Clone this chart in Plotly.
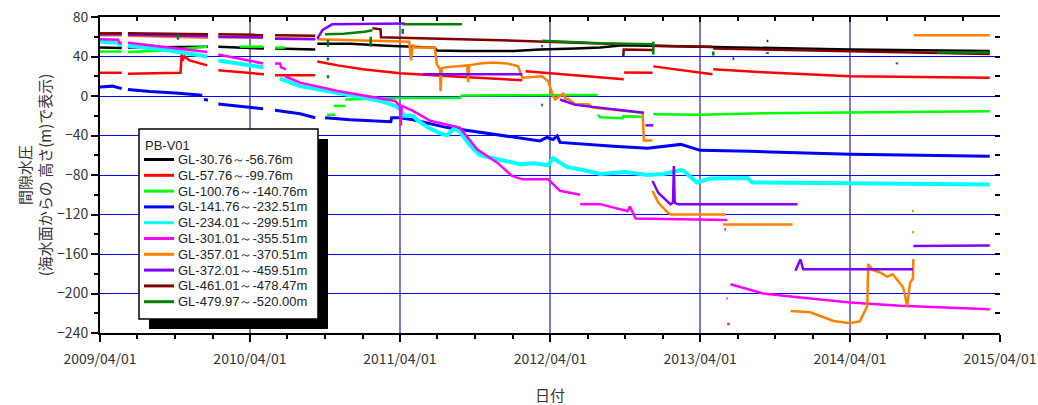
import plotly.graph_objects as go

# ---------------- data ----------------
SERIES_NAMES = [
    "GL-30.76～-56.76m", "GL-57.76～-99.76m", "GL-100.76～-140.76m",
    "GL-141.76～-232.51m", "GL-234.01～-299.51m", "GL-301.01～-355.51m",
    "GL-357.01～-370.51m", "GL-372.01～-459.51m", "GL-461.01～-478.47m",
    "GL-479.97～-520.00m",
]
SERIES_COLORS = ["#000000", "#ff0000", "#00ff00", "#0000ff", "#00ffff",
                 "#ff00ff", "#ff8000", "#8000ff", "#800000", "#008000"]
LEGEND_TITLE = "PB-V01"

BLACK_D = ['2009-04-01', '2009-05-24', None,
           '2009-06-08', '2009-09-01', '2009-12-20', None,
           '2010-01-14', '2010-05-05', None,
           '2010-06-01', '2010-09-07', None,
           '2010-09-12', '2010-12-01', '2011-03-01', '2011-06-25', '2011-06-30', '2011-09-01',
           '2012-01-02', '2012-03-07', '2012-06-01', '2012-08-01', '2012-09-24', '2013-01-01',
           '2013-04-01', '2014-04-01', '2015-03-07']
BLACK_V = [49, 48.5, None, 49, 49.5, 50, None, 50, 48, None, 48, 47, None,
           53, 53, 51, 49, 46, 45.6, 45.6, 47, 48, 49, 51.5, 51, 50, 47, 45.5]

RED_D = ['2009-04-01', '2009-05-24', None,
         '2009-06-08', '2009-08-01', '2009-10-14', '2009-10-17', '2009-10-19', '2009-10-24',
         '2009-11-05', '2009-12-18', None,
         '2010-01-14', '2010-05-05', None,
         '2010-06-01', '2010-09-07', None,
         '2010-09-12', '2010-11-01', '2011-01-01', '2011-04-01', '2011-08-01', '2011-12-01',
         '2012-01-24', None,
         '2012-02-01', '2012-06-01', '2012-09-27', None,
         '2012-09-28', '2012-12-06', None,
         '2012-12-08', '2013-03-01', '2013-05-01', None,
         '2013-05-03', '2013-09-01', '2014-04-01', '2015-03-07']
RED_V = [23.5, 23.5, None, 22.5, 23, 23.5, 44, 36, 40, 36, 31, None, 26, 22, None,
         21, 21, None, 35, 31, 27, 23, 20, 17.5, 16, None, 25, 21, 17, None,
         23.7, 23.5, None, 30, 25, 22, None, 27, 24, 20, 18.5]

LIME_D = ['2009-04-01', '2009-05-24', None,
          '2009-06-08', '2009-09-01', '2009-12-18', None,
          '2010-03-07', '2010-05-03', None,
          '2010-06-01', '2010-06-25', None,
          '2010-10-06', '2010-10-25', None,
          '2010-10-22', '2010-11-19', None,
          '2010-11-19', '2011-04-01', '2011-08-25', '2011-08-30', '2012-07-25', None,
          '2012-07-26', '2012-08-01', '2012-09-24', '2012-09-26', '2012-11-15', None,
          '2012-12-08', '2013-04-01', '2013-09-01', '2014-04-01', '2015-03-07']
LIME_V = [45, 45, None, 44.5, 46, 50, None, 50, 50, None, 49, 49, None,
          -19, -19, None, -10, -10, None, -3.5, -2, -2, 0.5, 1, None,
          -19, -21.5, -22.5, -20.5, -21, None, -18.5, -19, -17.5, -16.5, -15.5]

BLUE_D = ['2009-04-01', '2009-05-01', '2009-05-24', None,
          '2009-06-08', '2009-08-01', '2009-10-01', '2009-12-06', None,
          '2009-12-10', '2009-12-20', None,
          '2010-01-14', '2010-03-01', '2010-05-03', None,
          '2010-06-01', '2010-08-01', '2010-09-07', None,
          '2010-10-01', '2010-12-01', '2011-03-10', '2011-03-12', '2011-04-01', '2011-05-03',
          '2011-07-25', '2011-10-13', '2012-01-02', '2012-03-07', '2012-03-24', '2012-04-08',
          '2012-04-18', '2012-04-25', '2012-09-02', '2012-11-24', '2013-02-13', '2013-04-01',
          '2013-08-01', '2014-04-01', '2015-03-07']
BLUE_V = [9, 10, 7.5, None, 6.5, 4.5, 3, 0.7, None, -3.5, -4, None, -8, -10, -13, None,
          -14.5, -18, -22, None, -22, -24, -26, -22, -22, -24, -32, -37, -42, -45.5, -42,
          -44, -40.5, -47, -51, -53, -49, -55, -56, -59, -61]

CYAN_D = ['2009-04-01', '2009-05-15', '2009-05-18', '2009-05-24', None,
          '2009-06-08', '2009-09-01', '2009-12-18', None,
          '2010-01-14', '2010-05-03', None,
          '2010-06-13', '2010-08-01', '2010-11-01', '2011-02-13', '2011-03-20', '2011-04-05',
          '2011-04-10', '2011-05-03', '2011-05-15', '2011-06-13', '2011-07-10', '2011-07-25',
          '2011-08-10', '2011-08-25', '2011-09-19', '2011-10-13', '2011-11-24', '2011-12-20',
          '2012-01-19', '2012-02-20', '2012-03-27', '2012-04-08', '2012-05-13', '2012-06-20',
          '2012-08-01', '2012-10-01', '2012-11-24', '2013-01-01', '2013-02-13', '2013-02-20',
          '2013-03-24', '2013-04-25', '2013-07-25', '2013-08-06', '2014-04-01', '2015-03-07']
CYAN_V = [55, 54, 52, 52, None, 51, 47, 40, None, 36, 29, None,
          17.5, 10, 3, -5, -10, -14, -20, -20, -25, -33, -38, -40, -33, -36, -50, -60,
          -64, -66, -69, -68, -70, -63, -72, -75, -79, -77, -80, -79, -75, -76, -87.5,
          -83.5, -83, -87.5, -88.5, -89.5]

MAG_D = ['2009-04-01', '2009-05-15', '2009-05-18', '2009-05-24', None,
         '2009-06-08', '2009-09-01', '2009-12-18', None,
         '2010-01-14', '2010-05-03', None,
         '2010-06-01', '2010-06-13', '2010-06-16', '2010-06-28', None,
         '2010-06-25', '2010-08-01', '2010-11-01', '2011-02-13', '2011-03-20', '2011-04-01',
         '2011-04-03', '2011-04-05', '2011-05-03', '2011-06-13', '2011-08-25', '2011-10-06',
         '2011-11-24', '2011-12-30', '2012-01-24', '2012-03-27', '2012-04-25', '2012-06-13', None,
         '2012-06-13', '2012-08-01', '2012-09-02', '2012-10-06', '2012-10-12', '2012-10-26',
         '2013-06-06', None,
         '2013-05-30', '2013-06-03', None,
         '2013-06-04', '2013-06-07', None,
         '2013-06-06', '2013-06-12', None,
         '2013-06-14', '2013-09-01', '2013-12-01', '2014-04-01', '2014-08-01', '2015-03-07']
MAG_V = [57.5, 57, 54, 54, None, 54, 50, 44.5, None, 42, 33, None, 33, 33, 29, 27, None,
         20, 13.5, 5, -2, -5, -10, -30, -10, -15, -25, -32, -54, -67.5, -81, -84.4, -84.4,
         -96, -100, None, -109.5, -109.5, -113, -116.5, -112, -124, -125.5, None,
         -135, -135, None, -205, -205, None, -231, -231, None,
         -190.7, -200, -204, -209, -212.5, -216]

ORG_D = ['2009-04-01', '2009-05-24', None,
         '2009-06-08', '2009-12-20', None,
         '2010-01-14', '2010-05-03', None,
         '2010-06-01', '2010-09-07', None,
         '2010-09-12', '2011-04-01', '2011-04-24', '2011-04-28', '2011-05-03', '2011-05-08',
         '2011-06-25', '2011-06-30', '2011-07-08', '2011-07-09', '2011-07-12', '2011-07-20',
         '2011-08-30', '2011-09-12', '2011-09-14', '2011-09-17', '2011-10-13', '2011-11-12',
         '2011-12-18', '2011-12-30', '2012-01-14', '2012-01-24', '2012-03-12', '2012-03-27',
         '2012-04-08', '2012-04-13', '2012-05-03', '2012-05-08', '2012-05-15', '2012-06-01',
         '2012-07-03', '2012-07-13', '2012-11-12', '2012-11-15', '2012-12-06', None,
         '2012-12-06', '2012-12-20', '2013-01-12', '2013-01-20', '2013-06-03', None,
         '2013-05-27', '2013-11-12', None,
         '2013-11-07', '2013-12-25', '2014-02-20', '2014-04-01', '2014-04-25', '2014-05-03',
         '2014-05-13', '2014-05-15', '2014-05-25', '2014-06-13', '2014-06-30', '2014-07-14',
         '2014-08-08', '2014-08-13', '2014-08-18', '2014-08-22', '2014-08-25', '2014-09-01',
         '2014-09-02', None,
         '2014-08-30', '2014-09-03', None,
         '2014-08-30', '2014-09-03', None,
         '2014-09-03', '2015-03-07']
ORG_V = [61.5, 61.5, None, 61, 59, None, 59.5, 59, None, 58.4, 58, None,
         57.4, 55.7, 55, 36, 52, 49, 49, 32, 27, 5, 28, 29, 30.5, 31, 14, 31, 33, 34, 33,
         31.5, 30, 18.5, 20, 15, 0, -3.4, 2.4, -3, -3, -8.4, -8.4, -11.8, -17, -45, -45, None,
         -96, -108, -118, -120, -120, None, -130, -130, None,
         -217.7, -219, -227.8, -230, -228, -221, -212.6, -170, -176, -178.7, -183, -180.5,
         -193.7, -202.5, -212.6, -200, -189, -185, -165, None,
         -138, -138, None, -116.5, -116.5, None, 61.5, 61.5]

PUR_D = ['2009-04-01', '2009-05-24', None,
         '2009-06-08', '2009-12-20', None,
         '2010-01-14', '2010-05-03', None,
         '2010-06-01', '2010-09-07', None,
         '2010-09-12', '2010-09-25', '2010-10-18', '2011-04-13', None,
         '2011-05-27', '2012-01-24', None,
         '2012-03-10', '2012-03-14', None,
         '2012-03-10', '2012-03-14', None,
         '2012-04-25', '2012-05-10', '2012-06-01', '2012-11-15', None,
         '2012-11-19', '2012-12-08', None,
         '2012-12-06', '2012-12-20', '2013-01-19', '2013-01-25', '2013-01-27', '2013-01-29',
         '2013-02-06', '2013-11-24', None,
         '2013-11-19', '2013-12-01', '2013-12-08', '2014-09-01', None,
         '2014-09-02', '2015-03-07']
PUR_V = [62.5, 62.5, None, 62, 60.5, None, 60, 59.5, None, 58, 57.5, None,
         58, 67, 72.6, 73.3, None, 22, 22, None, 50.6, 50.6, None, -9, -9, None,
         -3.5, -5.5, -9, -17, None, -29.7, -29.7, None,
         -86, -98, -109.7, -108, -71, -108, -109.7, -109.7, None,
         -177, -165.5, -175.5, -175.5, None, -152, -151.5]

DR_D = ['2009-04-01', '2009-05-24', None,
        '2009-06-08', '2009-12-20', None,
        '2010-01-14', '2010-05-03', None,
        '2010-06-01', '2010-09-07', None,
        '2011-01-24', '2011-02-13', '2011-02-14', '2011-12-01', '2012-09-24', None,
        '2012-09-26', '2012-09-27', '2012-12-06', None,
        '2012-12-08', '2013-05-01', None,
        '2013-05-03', '2014-01-01', '2015-03-07', None,
        '2013-09-10', '2013-09-14', None,
        '2013-06-19', '2013-06-23']
DR_V = [63.5, 63.5, None, 63.5, 62.5, None, 62.5, 62, None, 61.5, 61, None,
        68.5, 67.5, 59.5, 56.5, 52.3, None, 40.5, 47, 46.5, None, 51, 50, None,
        48, 46, 42.5, None, 55.7, 55.7, None, 37.8, 37.8]

DG_D = ['2009-10-08', '2009-10-08', None,
        '2010-10-01', '2010-11-15', '2011-01-05', '2011-01-24', None,
        '2010-10-08', '2010-10-08', None,
        '2010-10-08', '2010-10-08', None,
        '2010-10-08', '2010-10-08', None,
        '2011-01-20', '2011-01-20', None,
        '2011-04-08', '2011-04-08', None,
        '2011-04-08', '2011-08-30', None,
        '2012-03-12', '2012-05-15', '2012-08-01', '2012-12-06', None,
        '2012-12-08', '2012-12-08', None,
        '2013-05-03', '2013-05-03', None,
        '2013-09-12', '2013-09-12', None,
        '2014-07-24', '2014-07-24', None,
        '2014-10-30', '2015-03-07']
DG_V = [63, 57, None, 62.5, 63, 65, 66.5, None, 57, 50, None, 39, 36, None, 21, 18, None,
        60, 50, None, 68, 63, None, 72.6, 72.6, None, 56, 55, 53.5, 52.5, None,
        55, 42, None, 45, 41, None, 44.5, 42.5, None, 34, 32, None, 44, 44]

SERIES_DATES = [BLACK_D, RED_D, LIME_D, BLUE_D, CYAN_D, MAG_D, ORG_D, PUR_D, DR_D, DG_D]
SERIES_VALUES = [BLACK_V, RED_V, LIME_V, BLUE_V, CYAN_V, MAG_V, ORG_V, PUR_V, DR_V, DG_V]
SERIES_WIDTHS = [2.5, 2.5, 2.5, 3, 4, 2.5, 2.5, 2.5, 2.5, 2.5]

YEAR_TICKS = ['2009-04-01', '2010-04-01', '2011-04-01', '2012-04-01',
              '2013-04-01', '2014-04-01', '2015-04-01']
YEAR_LABELS = ['2009/04/01', '2010/04/01', '2011/04/01', '2012/04/01',
               '2013/04/01', '2014/04/01', '2015/04/01']
Y_TICKS = [-240, -200, -160, -120, -80, -40, 0, 40, 80]

FONT = "Noto Sans CJK JP, sans-serif"
LEG_FONT = "Liberation Sans, Arial, sans-serif"

# ---------------- figure geometry ----------------
W, H = 1038, 405
ML, MR, MT, MB = 100, 38, 17, 72
PW, PH = W - ML - MR, H - MT - MB


def px_x(x):
    return (x - ML) / PW


def px_y(y):
    return (H - MB - y) / PH


fig = go.Figure()
for name, color, d, v, w in zip(SERIES_NAMES, SERIES_COLORS, SERIES_DATES,
                                SERIES_VALUES, SERIES_WIDTHS):
    fig.add_trace(go.Scatter(x=d, y=v, mode="lines", name=name, showlegend=False,
                             line=dict(color=color, width=w), connectgaps=False))

# helper trace for the mirrored (top / right) axes
fig.add_trace(go.Scatter(x=[None], y=[None], xaxis="x2", yaxis="y2",
                         showlegend=False, hoverinfo="skip"))

# ---------------- boxed legend with drop shadow ----------------
LEG_L, LEG_R, LEG_T, LEG_B = 139, 318, 129, 319
SHADOW = 10
ROW0, ROW_STEP = 159.5, 15.8
shapes = [
    dict(type="rect", xref="paper", yref="paper", layer="above",
         x0=px_x(LEG_L + SHADOW), x1=px_x(LEG_R + SHADOW),
         y0=px_y(LEG_T + SHADOW), y1=px_y(LEG_B + SHADOW),
         fillcolor="black", line=dict(width=0)),
    dict(type="rect", xref="paper", yref="paper", layer="above",
         x0=px_x(LEG_L), x1=px_x(LEG_R), y0=px_y(LEG_T), y1=px_y(LEG_B),
         fillcolor="white", line=dict(color="black", width=1.5)),
]
annotations = [dict(text=LEGEND_TITLE, xref="paper", yref="paper",
                    x=px_x(LEG_L + 4), y=px_y(145.5), xanchor="left", yanchor="middle",
                    showarrow=False, font=dict(family=LEG_FONT, size=13, color="#222222"))]
for i, (name, color) in enumerate(zip(SERIES_NAMES, SERIES_COLORS)):
    yy = ROW0 + i * ROW_STEP
    shapes.append(dict(type="line", xref="paper", yref="paper", layer="above",
                       x0=px_x(144), x1=px_x(174), y0=px_y(yy), y1=px_y(yy),
                       line=dict(color=color, width=3)))
    annotations.append(dict(text=name, xref="paper", yref="paper",
                            x=px_x(176), y=px_y(yy), xanchor="left", yanchor="middle",
                            showarrow=False,
                            font=dict(family=LEG_FONT, size=13, color="#222222")))

fig.update_layout(
    width=W, height=H,
    margin=dict(l=ML, r=MR, t=MT, b=MB, autoexpand=False),
    paper_bgcolor="white", plot_bgcolor="white",
    font=dict(family=FONT, size=14, color="#222222"),
    showlegend=False,
    shapes=shapes, annotations=annotations,
    xaxis=dict(type="date", range=['2009-04-01', '2015-04-01'], automargin=False,
               tickmode="array", tickvals=YEAR_TICKS, ticktext=YEAR_LABELS,
               ticks="outside", ticklen=7, tickwidth=1.5, tickcolor="black",
               ticklabelstandoff=5,
               showline=True, linecolor="black", linewidth=2,
               showgrid=True, gridcolor="#7a7ac8", gridwidth=1.5, zeroline=False,
               minor=dict(dtick="M3", tick0="2009-01-01", ticks="outside", ticklen=4,
                          tickwidth=1.5, tickcolor="black", showgrid=False),
               tickfont=dict(size=14, color="#333333"),
               title=dict(text="日付", font=dict(size=15, color="#333333"), standoff=30)),
    yaxis=dict(range=[-240, 80], automargin=False, tickmode="array", tickvals=Y_TICKS,
               ticks="outside", ticklen=7, tickwidth=1.5, tickcolor="black",
               showline=True, linecolor="black", linewidth=2,
               showgrid=True, gridcolor="#0000ff", gridwidth=1, zeroline=False,
               minor=dict(dtick=20, ticks="outside", ticklen=4, tickwidth=1.5,
                          tickcolor="black", showgrid=False),
               tickfont=dict(size=14, color="#333333"),
               title=dict(text="間隙水圧<br>(海水面からの 高さ(m)で表示)",
                          font=dict(size=15, color="#333333"), standoff=2)),
    xaxis2=dict(type="date", overlaying="x", side="top", anchor="y2", automargin=False,
                range=['2009-04-01', '2015-04-01'],
                tickmode="array", tickvals=YEAR_TICKS, showticklabels=False,
                ticks="inside", ticklen=5, tickwidth=1.5, tickcolor="black",
                showline=True, linecolor="black", linewidth=2, showgrid=False,
                zeroline=False,
                minor=dict(dtick="M3", tick0="2009-01-01", ticks="inside", ticklen=4,
                           tickwidth=1.5, tickcolor="black", showgrid=False)),
    yaxis2=dict(overlaying="y", side="right", anchor="x2", range=[-240, 80],
                automargin=False,
                tickmode="linear", tick0=-240, dtick=20, showticklabels=False,
                ticks="inside", ticklen=5, tickwidth=1.5, tickcolor="black",
                showline=False, showgrid=False, zeroline=False),
)

fig.write_html("out.html")
